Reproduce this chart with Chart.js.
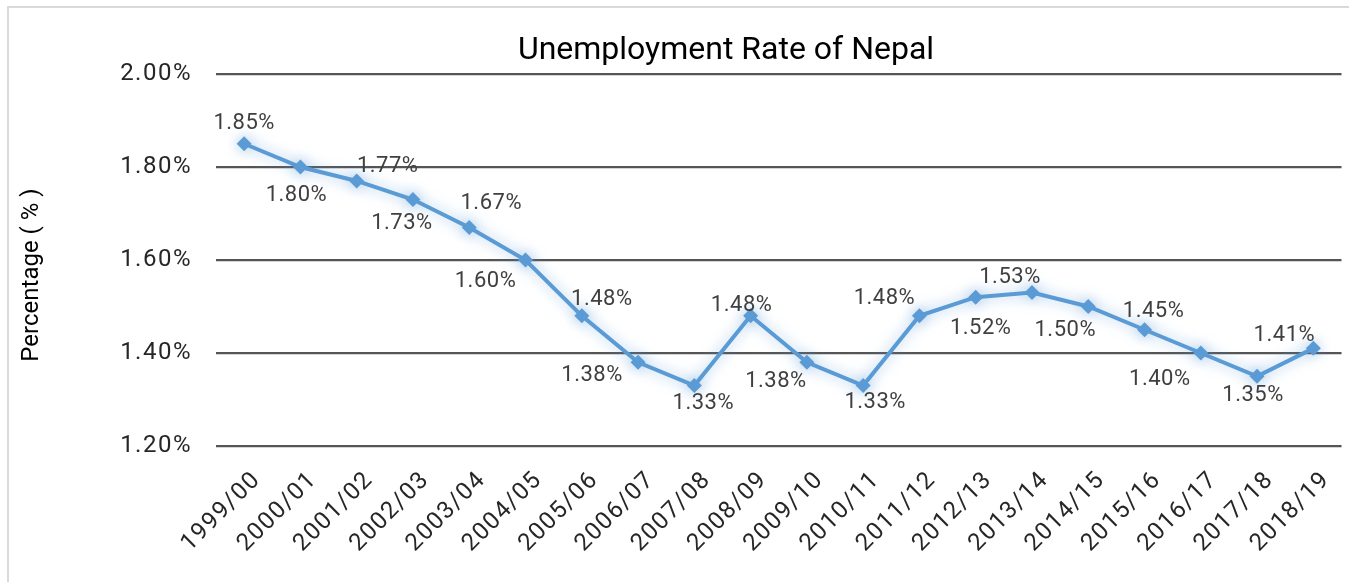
<!DOCTYPE html>
<html lang="en">
<head>
    <meta charset="UTF-8">
    <title>Unemployment Rate of Nepal</title>
    <script src="https://cdn.jsdelivr.net/npm/chart.js"></script>
    <style>
        html, body {
            margin: 0;
            padding: 0;
            background: #fff;
        }
        .chart-container {
            width: 1349px;
            height: 582px;
            position: relative;
        }
    </style>
</head>
<body>
    <div class="chart-container">
        <canvas id="rateChart"></canvas>
    </div>

    <script>
        // Fiscal years and unemployment rate (%)
        const years = ['1999/00', '2000/01', '2001/02', '2002/03', '2003/04', '2004/05', '2005/06',
            '2006/07', '2007/08', '2008/09', '2009/10', '2010/11', '2011/12', '2012/13',
            '2013/14', '2014/15', '2015/16', '2016/17', '2017/18', '2018/19'];
        const rates = [1.85, 1.80, 1.77, 1.73, 1.67, 1.60, 1.48, 1.38, 1.33, 1.48,
            1.38, 1.33, 1.48, 1.52, 1.53, 1.50, 1.45, 1.40, 1.35, 1.41];
        const yTicks = [1.20, 1.40, 1.60, 1.80, 2.00];

        const chartTitle = 'Unemployment Rate of Nepal';
        const yTitle = 'Percentage ( % )';

        // where each value label sits relative to its point (dx, dy)
        const labelOffsets = [[0, -20], [-4, 28], [31, -14], [-11, 24], [22, -24], [-40, 21],
            [20, -16], [-46, 13], [9, 18], [-9, -10], [-31, 19], [12, 17], [-35, -17],
            [5, 31], [-22, -15], [-23, 24], [9, -18], [-41, 26], [-4, 19], [-29, -13]];

        const fmt = v => v.toFixed(2) + '%';

        // frame, title, y title, glow and value labels
        const decorations = {
            id: 'decorations',
            beforeDraw(chart) {
                const ctx = chart.ctx;
                ctx.save();
                ctx.strokeStyle = '#d9d9d9';
                ctx.lineWidth = 2;
                ctx.strokeRect(8, 7, chart.width + 20, chart.height + 20);
                ctx.restore();
                ctx.letterSpacing = '1.5px';
            },
            beforeDatasetDraw(chart) {
                const ctx = chart.ctx;
                ctx.save();
                ctx.shadowColor = 'rgba(91, 155, 213, 0.6)';
                ctx.shadowBlur = 14;
            },
            afterDatasetDraw(chart) {
                chart.ctx.restore();
            },
            afterDraw(chart) {
                const ctx = chart.ctx;
                ctx.save();
                ctx.letterSpacing = '0px';
                ctx.fillStyle = '#000';
                ctx.font = '32px Roboto';
                ctx.textAlign = 'center';
                ctx.textBaseline = 'middle';
                ctx.fillText(chartTitle, 726, 51);

                ctx.save();
                ctx.translate(32, 275);
                ctx.rotate(-Math.PI / 2);
                ctx.font = '24px Roboto';
                ctx.fillText(yTitle, 0, 0);
                ctx.restore();

                ctx.fillStyle = '#404040';
                ctx.font = '22px Roboto';
                ctx.letterSpacing = '0.5px';
                const meta = chart.getDatasetMeta(0);
                meta.data.forEach((pt, i) => {
                    const off = labelOffsets[i];
                    ctx.fillText(fmt(rates[i]), pt.x + off[0], pt.y + off[1]);
                });
                ctx.restore();
            }
        };

        const ctx = document.getElementById('rateChart').getContext('2d');
        new Chart(ctx, {
            type: 'line',
            data: {
                labels: years,
                datasets: [{
                    label: 'Unemployment rate',
                    data: rates,
                    borderColor: '#5b9bd5',
                    backgroundColor: '#5b9bd5',
                    borderWidth: 4,
                    pointStyle: 'rectRot',
                    pointRadius: 7.5,
                    pointBorderWidth: 0,
                    tension: 0,
                    fill: false
                }]
            },
            options: {
                responsive: true,
                maintainAspectRatio: false,
                animation: false,
                layout: {
                    padding: { left: 0, top: 74, right: 3, bottom: 0 }
                },
                plugins: {
                    legend: { display: false },
                    tooltip: { enabled: false }
                },
                scales: {
                    x: {
                        offset: true,
                        grid: { display: false, drawTicks: false },
                        border: { display: false },
                        ticks: {
                            minRotation: 45,
                            maxRotation: 45,
                            padding: 20,
                            labelOffset: 13,
                            color: '#262626',
                            font: { family: 'Roboto', size: 24 }
                        },
                        afterFit(scale) {
                            scale.height = 136;
                            scale.paddingLeft = 0;
                            scale.paddingRight = 0;
                        }
                    },
                    y: {
                        min: 1.2,
                        max: 2.0,
                        grid: { color: '#555555', lineWidth: 2.2, drawTicks: false },
                        border: { display: false },
                        afterBuildTicks(scale) {
                            scale.ticks = yTicks.map(v => ({ value: v }));
                        },
                        ticks: {
                            padding: 24,
                            color: '#262626',
                            font: { family: 'Roboto', size: 24 },
                            callback: v => fmt(v)
                        },
                        afterFit(scale) {
                            scale.width = 216;
                            scale.paddingTop = 0;
                            scale.paddingBottom = 0;
                        }
                    }
                }
            },
            plugins: [decorations]
        });
    </script>
</body>
</html>
